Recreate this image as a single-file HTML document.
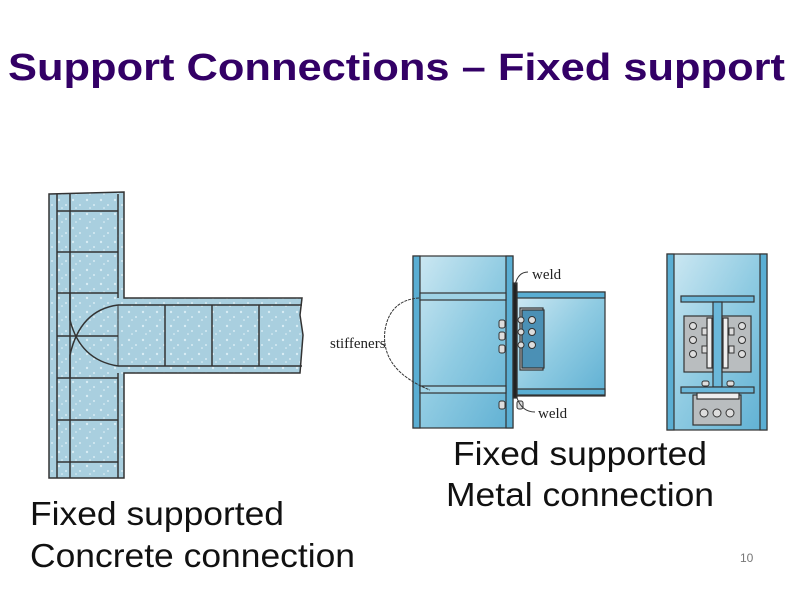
<!DOCTYPE html>
<html><head><meta charset="utf-8"><style>
html,body{margin:0;padding:0;background:#fff;width:800px;height:600px;overflow:hidden}
svg{display:block}
</style></head><body>
<svg width="800" height="600" viewBox="0 0 800 600" xmlns="http://www.w3.org/2000/svg" font-family="Liberation Sans, Arial, sans-serif">
<defs>
<linearGradient id="stl" x1="0" y1="0" x2="1" y2="1">
<stop offset="0" stop-color="#cfe9f3"/><stop offset="0.5" stop-color="#8fcbe2"/><stop offset="1" stop-color="#5fb0d3"/>
</linearGradient>
<pattern id="dots" width="14" height="14" patternUnits="userSpaceOnUse">
<rect width="14" height="14" fill="#a9cfdf"/>
<circle cx="3" cy="4" r="1.2" fill="#d8ecf4"/><circle cx="10" cy="9" r="1" fill="#d8ecf4"/><circle cx="6" cy="12" r="0.8" fill="#e4f2f8"/>
</pattern>
</defs>
<text x="8" y="80" font-size="38" font-weight="bold" fill="#330066" textLength="777" lengthAdjust="spacingAndGlyphs">Support Connections – Fixed support</text>

<!-- Concrete -->
<g stroke="#333" stroke-width="1.5" fill="none">
<path d="M49 194 L124 192 L124 298 L302 298 L300 315 L303 335 L300 373 L124 373 L124 478 L49 478 Z" fill="url(#dots)"/>
<line x1="57" y1="194" x2="57" y2="478"/>
<line x1="70" y1="194" x2="70" y2="478"/>
<line x1="118" y1="194" x2="118" y2="298"/>
<line x1="118" y1="373" x2="118" y2="478"/>
<line x1="118" y1="305" x2="118" y2="366" stroke-width="1"/>
<line x1="118" y1="305" x2="302" y2="305"/>
<line x1="118" y1="366" x2="302" y2="366"/>
<line x1="57" y1="211" x2="118" y2="211"/><line x1="57" y1="252" x2="118" y2="252"/>
<line x1="57" y1="293" x2="118" y2="293"/><line x1="57" y1="336" x2="118" y2="336"/>
<line x1="57" y1="378" x2="118" y2="378"/><line x1="57" y1="420" x2="118" y2="420"/>
<line x1="57" y1="462" x2="118" y2="462"/>
<line x1="165" y1="305" x2="165" y2="366"/><line x1="212" y1="305" x2="212" y2="366"/><line x1="259" y1="305" x2="259" y2="366"/>
<path d="M118 305 Q80 310 70 355 L70 378"/>
<path d="M118 366 Q80 360 70 320 L70 293"/>
</g>

<!-- Metal left -->
<g stroke="#333" stroke-width="1.2">
<rect x="413" y="256" width="100" height="172" fill="url(#stl)"/>
<rect x="413" y="256" width="7" height="172" fill="#5aaed3"/>
<rect x="506" y="256" width="7" height="172" fill="#5aaed3"/>
<rect x="420" y="293" width="86" height="7" fill="#9fd3e6"/>
<rect x="420" y="386" width="86" height="7" fill="#9fd3e6"/>
<rect x="517" y="292" width="88" height="104" fill="url(#stl)"/>
<rect x="517" y="292" width="88" height="6" fill="#5aaed3"/>
<rect x="517" y="389" width="88" height="6" fill="#5aaed3"/>
<rect x="520" y="308" width="23" height="62" fill="#d0d8dc"/>
<rect x="522" y="310" width="22" height="58" fill="#4b90b5"/>
<rect x="513" y="283" width="4" height="115" fill="#222"/>
</g>
<g fill="#ddd" stroke="#333" stroke-width="1">
<rect x="499" y="320" width="6" height="8" rx="2"/><rect x="499" y="332" width="6" height="8" rx="2"/><rect x="499" y="345" width="6" height="8" rx="2"/>
<rect x="499" y="401" width="6" height="8" rx="2"/><rect x="517" y="401" width="6" height="8" rx="2"/>
<circle cx="532" cy="320" r="3.5"/><circle cx="532" cy="332" r="3.5"/><circle cx="532" cy="345" r="3.5"/>
<circle cx="521" cy="320" r="3"/><circle cx="521" cy="332" r="3"/><circle cx="521" cy="345" r="3"/>
</g>
<g fill="none" stroke="#333" stroke-width="1">
<path d="M419 298 Q390 300 385 330 Q380 370 430 390" stroke-dasharray="3,1"/>
<path d="M515 285 Q518 272 528 272"/><path d="M517 398 Q522 412 535 412"/>
</g>
<text x="330" y="348" font-family="Liberation Serif, serif" font-size="15" fill="#222">stiffeners</text>
<text x="532" y="279" font-family="Liberation Serif, serif" font-size="15" fill="#222">weld</text>
<text x="538" y="418" font-family="Liberation Serif, serif" font-size="15" fill="#222">weld</text>

<!-- Metal right -->
<g stroke="#333" stroke-width="1.2">
<rect x="667" y="254" width="100" height="176" fill="url(#stl)"/>
<rect x="667" y="254" width="7" height="176" fill="#5aaed3"/>
<rect x="760" y="254" width="7" height="176" fill="#5aaed3"/>
<rect x="681" y="296" width="73" height="6" fill="#6bb8da"/>
<rect x="713" y="302" width="9" height="85" fill="#6bb8da"/>
<rect x="681" y="387" width="73" height="6" fill="#6bb8da"/>
<rect x="684" y="316" width="29" height="56" fill="#b9bdbf"/>
<rect x="722" y="316" width="29" height="56" fill="#b9bdbf"/>
<rect x="707" y="318" width="5" height="50" fill="#eee"/>
<rect x="723" y="318" width="5" height="50" fill="#eee"/>
<rect x="693" y="395" width="48" height="30" fill="#b9bdbf"/>
<rect x="697" y="393" width="42" height="6" fill="#eee"/>
</g>
<g fill="#ddd" stroke="#333" stroke-width="1">
<circle cx="693" cy="326" r="3.5"/><circle cx="693" cy="340" r="3.5"/><circle cx="693" cy="354" r="3.5"/>
<circle cx="742" cy="326" r="3.5"/><circle cx="742" cy="340" r="3.5"/><circle cx="742" cy="354" r="3.5"/>
<circle cx="704" cy="413" r="4"/><circle cx="717" cy="413" r="4"/><circle cx="730" cy="413" r="4"/>
<rect x="702" y="328" width="5" height="7" /><rect x="729" y="328" width="5" height="7"/>
<rect x="702" y="346" width="5" height="7" /><rect x="729" y="346" width="5" height="7"/>
<rect x="702" y="381" width="7" height="5" rx="2"/><rect x="727" y="381" width="7" height="5" rx="2"/>
</g>

<g font-size="33" fill="#111" lengthAdjust="spacingAndGlyphs">
<text x="30" y="525" textLength="254" lengthAdjust="spacingAndGlyphs">Fixed supported</text>
<text x="30" y="567" textLength="325" lengthAdjust="spacingAndGlyphs">Concrete connection</text>
<text x="453" y="465" textLength="254" lengthAdjust="spacingAndGlyphs">Fixed supported</text>
<text x="446" y="506" textLength="268" lengthAdjust="spacingAndGlyphs">Metal connection</text>
</g>
<text x="740" y="562" font-size="12" fill="#777">10</text>
</svg>
</body></html>
